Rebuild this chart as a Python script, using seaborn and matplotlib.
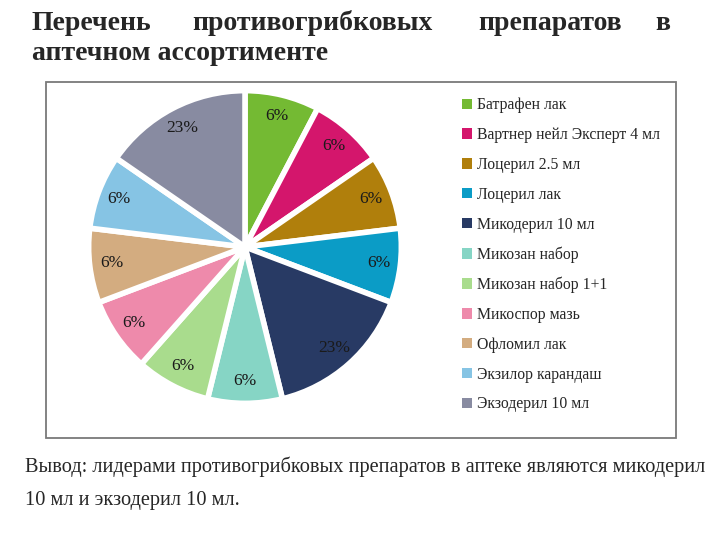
import matplotlib
matplotlib.use("Agg")
import matplotlib.pyplot as plt
import numpy as np
import seaborn as sns
from matplotlib.patches import Patch, Rectangle

# Data: wedge sizes are unit counts, labels as printed
products = [
    "Батрафен лак",
    "Вартнер нейл Эксперт 4 мл",
    "Лоцерил 2.5 мл",
    "Лоцерил лак",
    "Микодерил 10 мл",
    "Микозан набор",
    "Микозан набор 1+1",
    "Микоспор мазь",
    "Офломил лак",
    "Экзилор карандаш",
    "Экзодерил 10 мл",
]
counts = [1, 1, 1, 1, 2, 1, 1, 1, 1, 1, 2]
pct_labels = ["6%", "6%", "6%", "6%", "23%", "6%", "6%", "6%", "6%", "6%", "23%"]
colors = [
    "#74ba33", "#d4166c", "#b07f0c", "#0b9cc6", "#283a64", "#86d5c5",
    "#a9dc8d", "#ee8aab", "#d3ac80", "#86c4e4", "#888ba1",
]

title_words = ["Перечень", "противогрибковых", "препаратов", "в"]
title_line2 = "аптечном ассортименте"
conclusion = [
    "Вывод: лидерами противогрибковых препаратов в аптеке являются микодерил",
    "10 мл и экзодерил 10 мл.",
]

sns.set_style("white")
plt.rcParams["font.family"] = ["Liberation Serif", "DejaVu Serif"]
palette = sns.color_palette(colors)

fig = plt.figure(figsize=(7.2, 5.4), dpi=100)
fig.patch.set_facecolor("white")

# framed chart area
fig.add_artist(Rectangle((46 / 720, 1 - 438 / 540), 630 / 720, 356 / 540,
                         transform=fig.transFigure, fill=False,
                         edgecolor="#7a7a7a", linewidth=1.3))

ax = fig.add_axes([91 / 720, 1 - 401 / 540, 308 / 720, 308 / 540])
wedges, _ = ax.pie(counts, colors=palette, startangle=90, counterclock=False,
                   radius=1.0, wedgeprops=dict(edgecolor="white", linewidth=4))
ax.set_xlim(-0.985, 0.985)
ax.set_ylim(-0.985, 0.985)
ax.set_aspect("equal")
ax.axis("off")

# percent labels near the rim
total = sum(counts)
start = 0.0
for c, lab in zip(counts, pct_labels):
    mid = np.deg2rad(90 - (start + c / 2) / total * 360)
    ax.text(0.86 * np.cos(mid), 0.86 * np.sin(mid), lab, ha="center",
            va="center", fontsize=12.5, color="#1a1a1a")
    start += c

handles = [Patch(facecolor=col, edgecolor="none") for col in palette]
fig.legend(handles, products, loc="upper left",
           bbox_to_anchor=(456 / 720, 1 - 91 / 540), frameon=False,
           fontsize=11.3, handlelength=0.65, handleheight=0.65,
           handletextpad=0.3, labelspacing=0.88, borderaxespad=0)

# title, justified across the width
title_x = [32, 192, 478, 655]
for word, x in zip(title_words, title_x):
    fig.text(x / 720, 1 - 23 / 540, word, fontsize=20, fontweight="bold",
             va="center", ha="left")
fig.text(32 / 720, 1 - 54 / 540, title_line2, fontsize=20, fontweight="bold",
         va="center", ha="left")

fig.text(25 / 720, 1 - 467 / 540, conclusion[0], fontsize=14.7, va="center")
fig.text(25 / 720, 1 - 501 / 540, conclusion[1], fontsize=14.7, va="center")

fig.savefig("out.png", dpi=100, facecolor="white")
